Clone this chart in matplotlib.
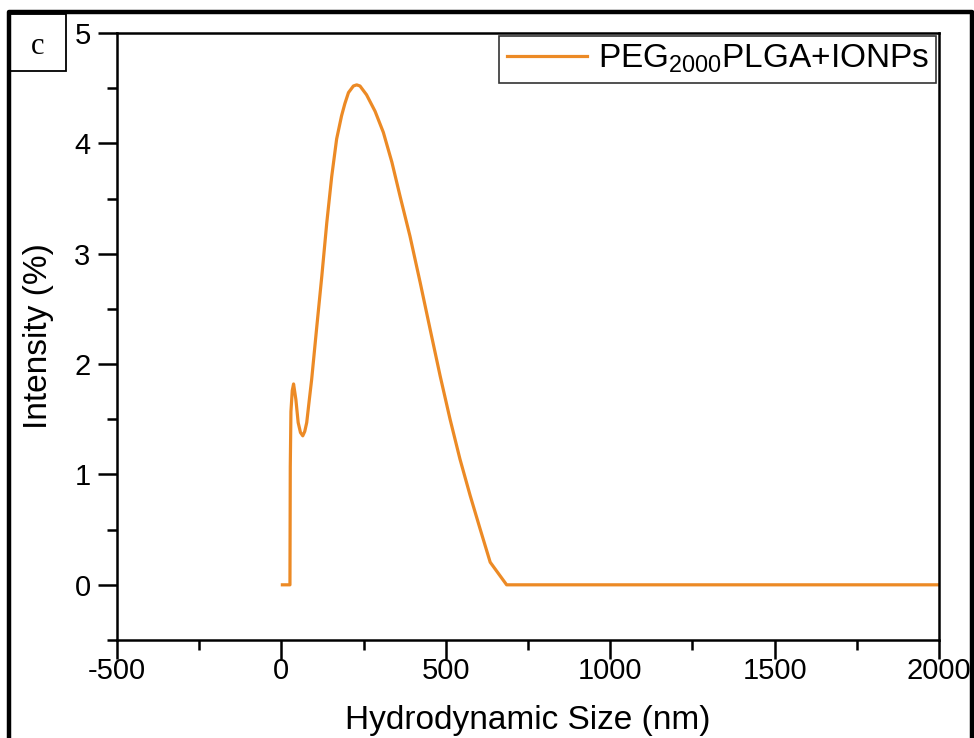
import matplotlib
matplotlib.use("Agg")
import matplotlib.pyplot as plt
from matplotlib.lines import Line2D
from matplotlib.patches import Rectangle

plt.rcParams['font.family'] = ['Liberation Sans', 'DejaVu Sans']
plt.rcParams['mathtext.default'] = 'regular'
plt.rcParams['axes.unicode_minus'] = False

# Data
size_nm = [3, 26, 27, 29, 33, 37, 44, 51, 58, 65, 71, 77, 85, 92, 107, 123, 138, 153,
           168, 183, 193, 204, 219, 229, 239, 259, 285, 310, 336, 361, 391, 422, 452,
           483, 513, 543, 574, 604, 635, 685, 2000]
intensity = [0, 0, 1.07, 1.57, 1.76, 1.82, 1.68, 1.47, 1.38, 1.35, 1.39, 1.47, 1.68,
             1.86, 2.32, 2.80, 3.28, 3.70, 4.04, 4.25, 4.36, 4.46, 4.52, 4.53, 4.52,
             4.44, 4.29, 4.10, 3.83, 3.52, 3.16, 2.74, 2.32, 1.89, 1.50, 1.14, 0.81,
             0.51, 0.205, 0, 0]

series_label = 'PEG$_{2000}$PLGA+IONPs'
x_label = 'Hydrodynamic Size (nm)'
y_label = 'Intensity (%)'
panel_label = 'c'
x_ticks = [-500, 0, 500, 1000, 1500, 2000]
y_ticks = [0, 1, 2, 3, 4, 5]

W, H = 974, 738
fig = plt.figure(figsize=(W / 100, H / 100), dpi=100)
ax = fig.add_axes([117 / W, 1 - 640 / H, (939 - 117) / W, (640 - 33) / H])

ax.plot(size_nm, intensity, color='#EC8A25', lw=2.3, label=series_label)

ax.set_xlim(-500, 2000)
ax.set_ylim(-0.5, 5)
ax.set_xticks(x_ticks)
ax.set_yticks(y_ticks)
ax.set_xticks([-250, 250, 750, 1250, 1750], minor=True)
ax.set_yticks([-0.5, 0.5, 1.5, 2.5, 3.5, 4.5], minor=True)
ax.tick_params(axis='both', which='major', direction='out', length=14, width=1.8,
               labelsize=21)
ax.tick_params(axis='x', which='major', pad=-2)
ax.tick_params(axis='y', which='major', pad=5)
ax.tick_params(axis='both', which='minor', direction='out', length=7, width=1.8)
for s in ax.spines.values():
    s.set_linewidth(1.8)

ax.set_xlabel(x_label, fontsize=24, labelpad=15)
ax.set_ylabel(y_label, fontsize=24, labelpad=15)

leg = ax.legend(loc='upper right', fontsize=24, handlelength=2.4, handletextpad=0.33,
                borderaxespad=0.08, borderpad=0.22, fancybox=False, frameon=True)
leg.get_frame().set_edgecolor('black')
leg.get_frame().set_linewidth(1.2)

# outer border of the figure panel
fig.add_artist(Line2D([9 / W, 9 / W, 971.5 / W, 971.5 / W],
                      [0, 1 - 12 / H, 1 - 12 / H, 0],
                      transform=fig.transFigure, color='black', lw=3.2))
# panel label box
fig.add_artist(Rectangle((10 / W, 1 - 71 / H), 56 / W, 57 / H, transform=fig.transFigure,
                         fill=False, edgecolor='black', lw=1.3))
fig.text(38 / W, 1 - 46 / H, panel_label, fontsize=22, family='Liberation Serif',
         ha='center', va='center')

fig.savefig('out.png', dpi=100)
